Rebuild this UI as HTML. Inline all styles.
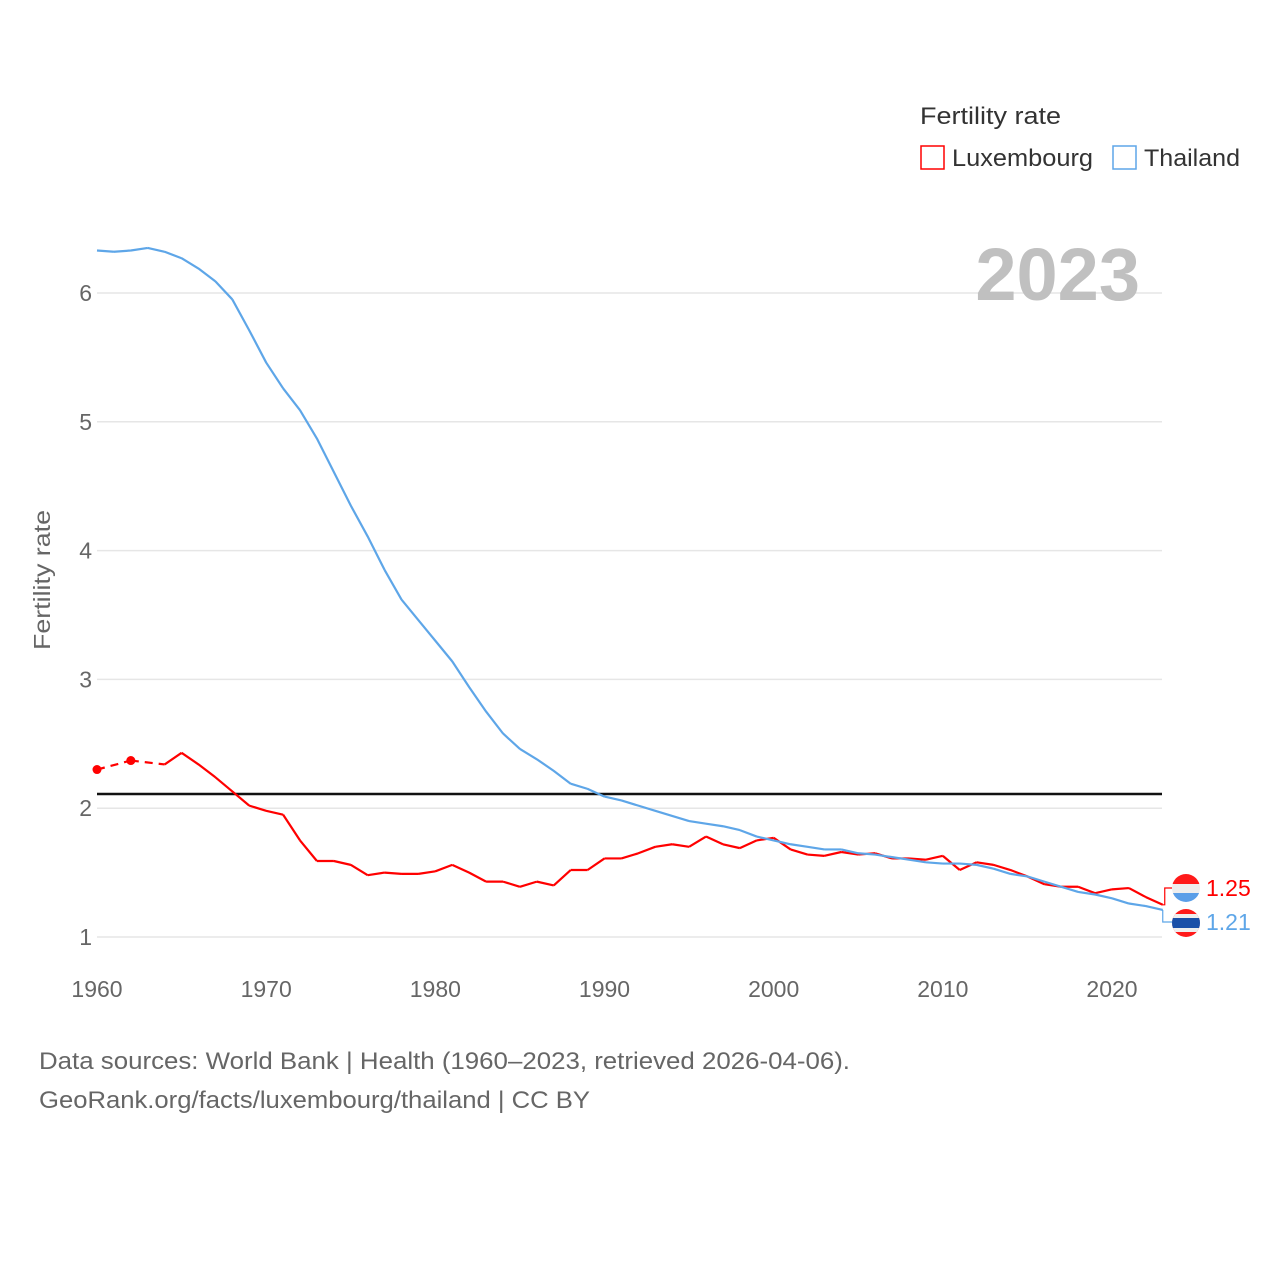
<!DOCTYPE html>
<html><head><meta charset="utf-8">
<style>
body{margin:0;background:#fff;width:1280px;height:1280px;overflow:hidden;font-family:"Liberation Sans",sans-serif;}
svg text{font-family:"Liberation Sans",sans-serif;}
</style></head>
<body>
<svg id="chart" width="1280" height="1280" viewBox="0 0 1280 1280" xmlns="http://www.w3.org/2000/svg">
<g id="grid"></g>
<g id="yticks"></g>
<g id="xticks"></g>
<text x="50" y="580" transform="rotate(-90 50 580)" text-anchor="middle" font-size="23" fill="#666" textLength="140" lengthAdjust="spacingAndGlyphs">Fertility rate</text>
<text x="1140" y="300" text-anchor="end" font-size="74" font-weight="bold" fill="#c0c0c0">2023</text>
<g>
<text x="920" y="124" font-size="24" fill="#333" textLength="141" lengthAdjust="spacingAndGlyphs">Fertility rate</text>
<rect x="921" y="146" width="23" height="23" fill="none" stroke="#ff0000" stroke-width="1.5"/>
<text x="952" y="166" font-size="24" fill="#333" textLength="141" lengthAdjust="spacingAndGlyphs">Luxembourg</text>
<rect x="1113" y="146" width="23" height="23" fill="none" stroke="#5ea6e8" stroke-width="1.5"/>
<text x="1144" y="166" font-size="24" fill="#333" textLength="96" lengthAdjust="spacingAndGlyphs">Thailand</text>
</g>
<g id="series"></g>
<g id="endlabels"></g>
<text x="39" y="1069" font-size="24" fill="#666" textLength="811" lengthAdjust="spacingAndGlyphs">Data sources: World Bank | Health (1960–2023, retrieved 2026-04-06).</text>
<text x="39" y="1108" font-size="24" fill="#666" textLength="551" lengthAdjust="spacingAndGlyphs">GeoRank.org/facts/luxembourg/thailand | CC BY</text>
</svg>
<script>
const years=[];for(let y=1960;y<=2023;y++)years.push(y);
const luxValues=[2.30,null,2.37,null,2.34,2.43,2.34,2.24,2.13,2.02,1.98,1.95,1.75,1.59,1.59,1.56,1.48,1.50,1.49,1.49,1.51,1.56,1.50,1.43,1.43,1.39,1.43,1.40,1.52,1.52,1.61,1.61,1.65,1.70,1.72,1.70,1.78,1.72,1.69,1.75,1.77,1.68,1.64,1.63,1.66,1.64,1.65,1.61,1.61,1.60,1.63,1.52,1.58,1.56,1.52,1.47,1.41,1.39,1.39,1.34,1.37,1.38,1.31,1.25];
const thaValues=[6.33,6.32,6.33,6.35,6.32,6.27,6.19,6.09,5.95,5.71,5.46,5.26,5.09,4.87,4.61,4.35,4.11,3.85,3.62,3.46,3.30,3.14,2.94,2.75,2.58,2.46,2.38,2.29,2.19,2.15,2.09,2.06,2.02,1.98,1.94,1.90,1.88,1.86,1.83,1.78,1.75,1.72,1.70,1.68,1.68,1.65,1.64,1.62,1.60,1.58,1.57,1.57,1.56,1.53,1.49,1.47,1.43,1.39,1.35,1.33,1.30,1.26,1.24,1.21];
const yTicks=[1,2,3,4,5,6];
const xTicks=[1960,1970,1980,1990,2000,2010,2020];
const replacementRate=2.11;
const NS="http://www.w3.org/2000/svg";
const X=y=>97+(y-1960)*(1015/60);
const Y=v=>937-(v-1)*128.8;
function mk(tag,attrs,parent,text){const e=document.createElementNS(NS,tag);for(const k in attrs)e.setAttribute(k,attrs[k]);if(text!=null)e.textContent=text;parent.appendChild(e);return e;}
const grid=document.getElementById('grid'),yt=document.getElementById('yticks'),xt=document.getElementById('xticks'),ser=document.getElementById('series'),el=document.getElementById('endlabels');
yTicks.forEach(v=>{
 const l=mk('line',{x1:97,x2:1162,y1:Y(v),y2:Y(v),stroke:'#e6e6e6','stroke-width':1.5},grid);
 
 
 const t=mk('text',{x:92,y:Y(v)+8,'text-anchor':'end','font-size':23,fill:'#666'},yt,String(v));
 
 
});
xTicks.forEach(v=>{
 const t=mk('text',{x:X(v),y:997,'text-anchor':'middle','font-size':23,fill:'#666'},xt,String(v));
 
 
});
const rl=mk('line',{x1:97,x2:1162,y1:Y(replacementRate),y2:Y(replacementRate),stroke:'#111','stroke-width':2.5},ser);


function drawSeries(vals,color,name){
 let solid='',dashed='';let prev=null;
 vals.forEach((v,i)=>{if(v==null)return;const p=[X(years[i]),Y(v)];
  if(prev){const seg=`M${prev.p[0]},${prev.p[1]}L${p[0]},${p[1]}`;if(i-prev.i>1)dashed+=seg;else solid+=seg;}
  prev={i,p};});
 const s=mk('path',{d:solid,fill:'none',stroke:color,'stroke-width':2.2,'stroke-linejoin':'round'},ser);
 
 
 if(dashed){const d=mk('path',{d:dashed,fill:'none',stroke:color,'stroke-width':2.2,'stroke-dasharray':'8,6'},ser);
  
  }
 vals.forEach((v,i)=>{if(v==null)return;const isolated=(i===0||vals[i-1]==null)&&(i===vals.length-1||vals[i+1]==null);
  if(isolated){const c=mk('circle',{cx:X(years[i]),cy:Y(v),r:4.5,fill:color},ser);
   
   }});
}
drawSeries(luxValues,'#ff0000','luxembourg');
drawSeries(thaValues,'#5ea6e8','thailand');
const lastLux=luxValues[luxValues.length-1],lastTha=thaValues[thaValues.length-1];
const lx=X(2023);
const c1=mk('path',{d:`M${lx},${Y(lastLux)}L${lx+2},${Y(lastLux)}L${lx+2},888L1172,888`,fill:'none',stroke:'#ff0000','stroke-width':1.2},el);


const c2=mk('path',{d:`M${lx},${Y(lastTha)}L${lx},922L1172,922`,fill:'none',stroke:'#5ea6e8','stroke-width':1.2},el);


const fg1=mk('g',{},el);


const cp1=mk('clipPath',{id:'cp1'},fg1);mk('circle',{cx:1186,cy:888,r:14},cp1);
mk('rect',{x:1172,y:874,width:28,height:10,fill:'#ff1a1a','clip-path':'url(#cp1)'},fg1);
mk('rect',{x:1172,y:884,width:28,height:9,fill:'#eeeeee','clip-path':'url(#cp1)'},fg1);
mk('rect',{x:1172,y:893,width:28,height:10,fill:'#5a9ee8','clip-path':'url(#cp1)'},fg1);
const fg2=mk('g',{},el);


const cp2=mk('clipPath',{id:'cp2'},fg2);mk('circle',{cx:1186,cy:923,r:14},cp2);
mk('rect',{x:1172,y:909,width:28,height:28,fill:'#ff1a1a','clip-path':'url(#cp2)'},fg2);
mk('rect',{x:1172,y:914,width:28,height:18,fill:'#eeeeee','clip-path':'url(#cp2)'},fg2);
mk('rect',{x:1172,y:918,width:28,height:10,fill:'#1a4fa8','clip-path':'url(#cp2)'},fg2);
const t1=mk('text',{x:1206,y:896,'font-size':23,fill:'#ff0000'},el,lastLux.toFixed(2));


const t2=mk('text',{x:1206,y:930,'font-size':23,fill:'#5ea6e8'},el,lastTha.toFixed(2));


</script>
</body></html>
